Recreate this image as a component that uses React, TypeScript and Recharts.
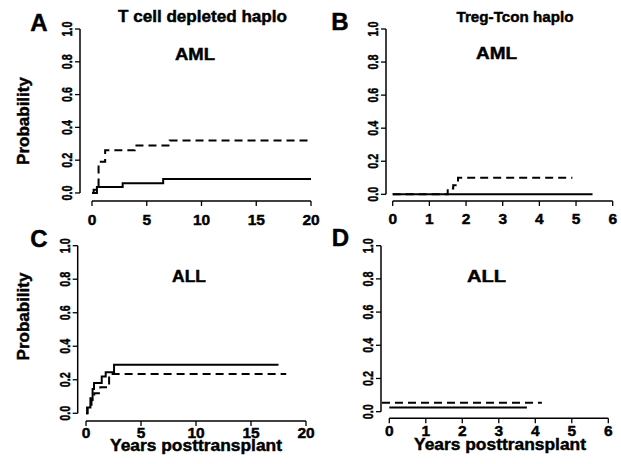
import { LineChart, Line, XAxis, YAxis, ReferenceLine } from "recharts";

// cumulative incidence curves (t = years, p = probability)
const tcdAmlSolid = [
  { t: 0, p: 0 }, { t: 0.45, p: 0.037 }, { t: 2.8, p: 0.06 }, { t: 6.5, p: 0.085 }, { t: 20, p: 0.085 },
];
const tcdAmlDashed = [
  { t: 0, p: 0 }, { t: 0.15, p: 0.02 }, { t: 0.45, p: 0.04 }, { t: 0.6, p: 0.19 },
  { t: 1.2, p: 0.26 }, { t: 3.9, p: 0.29 }, { t: 7.1, p: 0.32 }, { t: 19.7, p: 0.32 },
];
const tregAmlSolid = [{ t: 0, p: 0 }, { t: 5.45, p: 0 }];
const tregAmlDashed = [
  { t: 0, p: 0 }, { t: 1.5, p: 0.035 }, { t: 1.65, p: 0.055 }, { t: 1.78, p: 0.1 }, { t: 4.9, p: 0.1 },
];
const tcdAllSolid = [
  { t: 0, p: 0 }, { t: 0.1, p: 0.035 }, { t: 0.4, p: 0.09 }, { t: 0.6, p: 0.145 }, { t: 0.73, p: 0.18 },
  { t: 1.43, p: 0.22 }, { t: 1.79, p: 0.245 }, { t: 2.55, p: 0.29 }, { t: 17.5, p: 0.29 },
];
const tcdAllDashed = [
  { t: 0, p: 0 }, { t: 0.15, p: 0.04 }, { t: 0.5, p: 0.08 }, { t: 0.75, p: 0.12 },
  { t: 1.3, p: 0.155 }, { t: 2.1, p: 0.235 }, { t: 18.2, p: 0.235 },
];
const tregAllSolid = [{ t: 0, p: 0.025 }, { t: 3.77, p: 0.025 }];
const tregAllDashed = [{ t: -0.2, p: 0.054 }, { t: 4.18, p: 0.054 }];

const probTicks = [0, 0.2, 0.4, 0.6, 0.8, 1];
const yearTicksLong = [0, 5, 10, 15, 20];
const yearTicksShort = [0, 1, 2, 3, 4, 5, 6];

const FONT = '"Liberation Sans", Arial, Helvetica, sans-serif';
const W = 621;
const H = 464;
const AXIS_W = 30;
const AXIS_H = 30;

interface PanelSpec {
  solid: { t: number; p: number }[];
  dashed: { t: number; p: number }[];
  xTicks: number[];
  xMin: number;
  yMin: number;
  // plot box in page pixels
  left: number;
  right: number;
  top: number;
  bottom: number;
  labelDrop: number;
}

const panels: PanelSpec[] = [
  { solid: tcdAmlSolid, dashed: tcdAmlDashed, xTicks: yearTicksLong, xMin: -1.096, yMin: -0.049,
    left: 80, right: 311, top: 29, bottom: 201, labelDrop: 24 },
  { solid: tregAmlSolid, dashed: tregAmlDashed, xTicks: yearTicksShort, xMin: -0.183, yMin: -0.0405,
    left: 386, right: 612.7, top: 29, bottom: 201, labelDrop: 23 },
  { solid: tcdAllSolid, dashed: tcdAllDashed, xTicks: yearTicksLong, xMin: -0.755, yMin: -0.046,
    left: 77.7, right: 306, top: 245.7, bottom: 421, labelDrop: 16.5 },
  { solid: tregAllSolid, dashed: tregAllDashed, xTicks: yearTicksShort, xMin: -0.227, yMin: -0.04,
    left: 381, right: 608.3, top: 245.7, bottom: 418.3, labelDrop: 17.5 },
];

// heavier glyphs, like the original's bold type
const heavy = { stroke: "#000", strokeWidth: 0.45 };

const YTick = (props: any) => {
  const { x, y, payload } = props;
  const bx = x - 1;
  return (
    <text x={bx} y={y} transform={`rotate(-90 ${bx} ${y})`} textAnchor="middle"
      fontSize={14.5} fontWeight="bold" fontFamily={FONT} fill="#000" {...heavy}
      textLength={15} lengthAdjust="spacingAndGlyphs">
      {Number(payload.value).toFixed(1)}
    </text>
  );
};

const makeXTick = (drop: number) => (props: any) => {
  const { x, y, payload } = props;
  return (
    <text x={x} y={y - 7 + drop} textAnchor="middle" fontSize={15.5} fontWeight="bold"
      fontFamily={FONT} fill="#000" {...heavy}>
      {payload.value}
    </text>
  );
};

const Panel = ({ spec }: { spec: PanelSpec }) => {
  const xMax = spec.xTicks[spec.xTicks.length - 1];
  return (
    <div style={{ position: "absolute", left: 0, top: 0 }}>
      <LineChart
        width={W}
        height={H}
        margin={{
          top: spec.top,
          left: spec.left - AXIS_W,
          right: W - spec.right,
          bottom: H - spec.bottom - AXIS_H,
        }}
      >
        <XAxis type="number" dataKey="t" domain={[spec.xMin, xMax]} allowDataOverflow
          ticks={spec.xTicks} axisLine={false} tickSize={5} height={AXIS_H}
          tickLine={{ stroke: "#000", strokeWidth: 1.3 }} tick={makeXTick(spec.labelDrop)} />
        <YAxis type="number" dataKey="p" domain={[spec.yMin, 1]} allowDataOverflow
          ticks={probTicks} axisLine={false} tickSize={5} width={AXIS_W}
          tickLine={{ stroke: "#000", strokeWidth: 1.3 }} tick={<YTick />} />
        <ReferenceLine segment={[{ x: spec.xMin, y: 0 }, { x: spec.xMin, y: 1 }]}
          stroke="#000" strokeWidth={1.5} ifOverflow="visible" />
        <ReferenceLine segment={[{ x: 0, y: spec.yMin }, { x: xMax, y: spec.yMin }]}
          stroke="#000" strokeWidth={1.5} ifOverflow="visible" />
        <Line data={spec.solid} dataKey="p" type="stepAfter" stroke="#000" strokeWidth={2}
          dot={false} isAnimationActive={false} />
        <Line data={spec.dashed} dataKey="p" type="stepAfter" stroke="#000" strokeWidth={2}
          strokeDasharray="8 5" dot={false} isAnimationActive={false} />
      </LineChart>
    </div>
  );
};

const bold = { fontFamily: FONT, fontWeight: "bold" as const, fill: "#000", ...heavy };

const Annotations = () => (
  <svg width={W} height={H} style={{ position: "absolute", left: 0, top: 0, pointerEvents: "none" }}>
    <text x={39} y={31} fontSize={24} textAnchor="middle" {...bold}>A</text>
    <text x={340} y={30} fontSize={24} textAnchor="middle" {...bold}>B</text>
    <text x={39} y={247} fontSize={24} textAnchor="middle" {...bold}>C</text>
    <text x={340.5} y={246} fontSize={24} textAnchor="middle" {...bold}>D</text>

    <text x={202.5} y={22} fontSize={16.5} textAnchor="middle" textLength={169} lengthAdjust="spacingAndGlyphs" {...bold}>T cell depleted haplo</text>
    <text x={515} y={22} fontSize={15.5} textAnchor="middle" textLength={117} lengthAdjust="spacingAndGlyphs" {...bold}>Treg-Tcon haplo</text>

    <text x={195} y={60} fontSize={16} textAnchor="middle" textLength={40} lengthAdjust="spacingAndGlyphs" {...bold}>AML</text>
    <text x={496.5} y={59} fontSize={16} textAnchor="middle" textLength={41} lengthAdjust="spacingAndGlyphs" {...bold}>AML</text>
    <text x={189} y={282} fontSize={16} textAnchor="middle" textLength={34} lengthAdjust="spacingAndGlyphs" {...bold}>ALL</text>
    <text x={486.5} y={282} fontSize={16} textAnchor="middle" textLength={39} lengthAdjust="spacingAndGlyphs" {...bold}>ALL</text>

    <text x={29} y={121} fontSize={17} textAnchor="middle" transform="rotate(-90 29 121)" {...bold}>Probability</text>
    <text x={29} y={316.5} fontSize={17} textAnchor="middle" transform="rotate(-90 29 316.5)" {...bold}>Probability</text>

    <text x={196} y={451} fontSize={17} textAnchor="middle" textLength={172} lengthAdjust="spacingAndGlyphs" {...bold}>Years posttransplant</text>
    <text x={500} y={450} fontSize={17} textAnchor="middle" textLength={172} lengthAdjust="spacingAndGlyphs" {...bold}>Years posttransplant</text>
  </svg>
);

export default function App() {
  return (
    <div style={{ position: "absolute", left: 0, top: 0, width: W, height: H, background: "#fff", overflow: "hidden" }}>
      {panels.map((spec, i) => (
        <Panel key={i} spec={spec} />
      ))}
      <Annotations />
    </div>
  );
}
